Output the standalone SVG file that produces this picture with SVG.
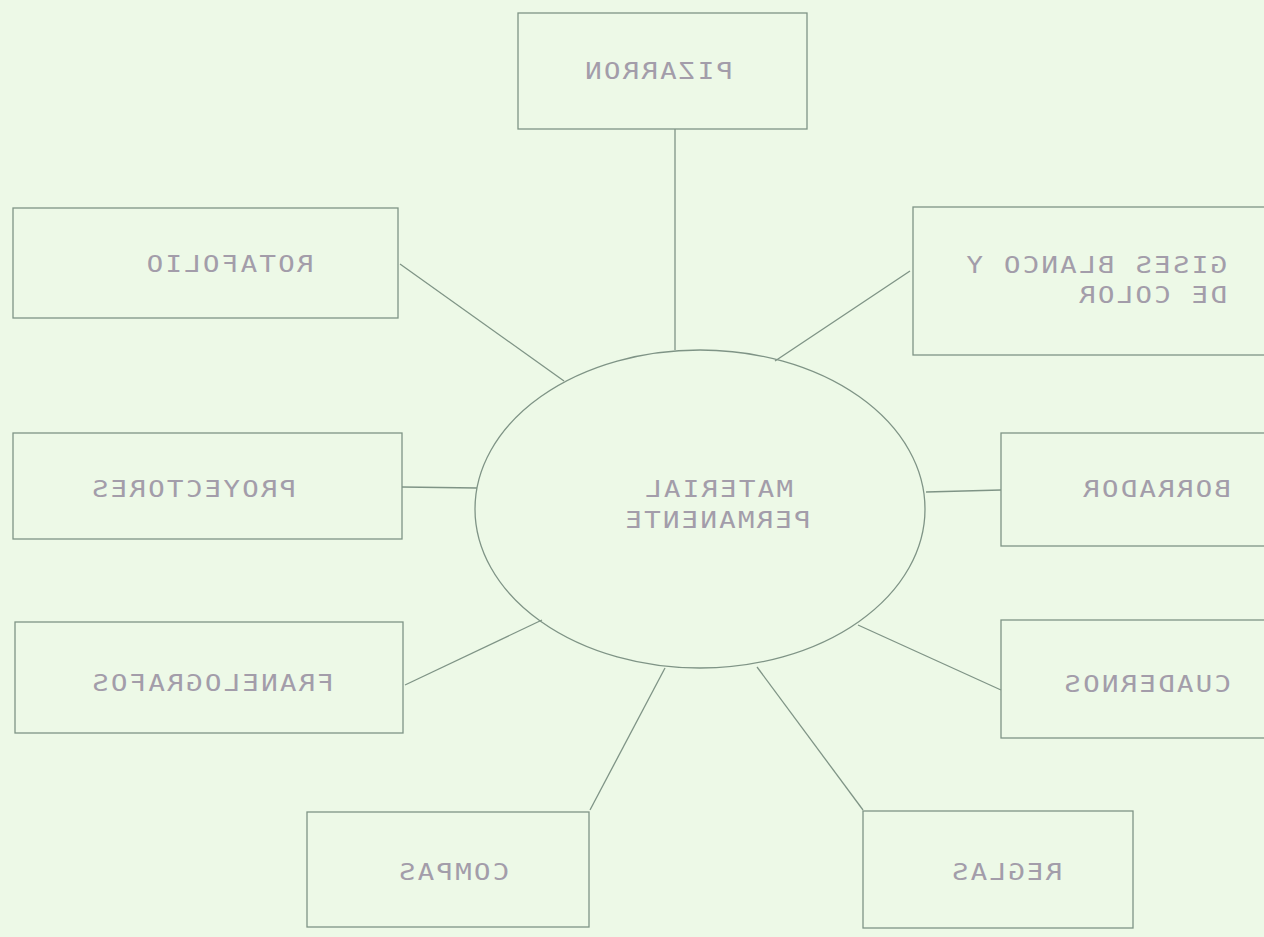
<svg xmlns="http://www.w3.org/2000/svg" width="1264" height="937" viewBox="0 0 1264 937">
<style>
.bg{fill:#edf9e7}
.box{fill:none;stroke:#7f9486;stroke-width:1.3}
.ell{fill:none;stroke:#7f9486;stroke-width:1.3}
.con line{stroke:#7f9486;stroke-width:1.3}
.lbl{font-family:"DejaVu Sans Mono","Liberation Mono",monospace;font-size:23px;letter-spacing:1.8px;fill:#a39daa}
</style>
<rect class="bg" x="0" y="0" width="1264" height="937"/>
<g id="connectors" class="con">
<line x1="675" y1="129" x2="675" y2="350"/>
<line x1="400" y1="264" x2="564" y2="381"/>
<line x1="910" y1="271" x2="775" y2="361"/>
<line x1="402" y1="487" x2="477" y2="488"/>
<line x1="1001" y1="490" x2="926" y2="492"/>
<line x1="405" y1="685" x2="542" y2="620"/>
<line x1="1001" y1="690" x2="858" y2="625"/>
<line x1="590" y1="810" x2="665" y2="668"/>
<line x1="863" y1="810" x2="757" y2="667"/>
</g>
<g id="n-material">
<ellipse class="ell" cx="700" cy="509" rx="225" ry="159"/>
<text class="lbl" transform="translate(718,497) scale(-1.2,1)" text-anchor="middle">MATERIAL</text>
<text class="lbl" transform="translate(717,528) scale(-1.2,1)" text-anchor="middle">PERMANENTE</text>
</g>
<g id="n-pizarron">
<rect class="box" x="518" y="13" width="289" height="116"/>
<text class="lbl" transform="translate(658,79) scale(-1.2,1)" text-anchor="middle">PIZARRON</text>
</g>
<g id="n-rotafolio">
<rect class="box" x="13" y="208" width="385" height="110"/>
<text class="lbl" transform="translate(229,272) scale(-1.2,1)" text-anchor="middle">ROTAFOLIO</text>
</g>
<g id="n-gises">
<rect class="box" x="913" y="207" width="380" height="148"/>
<text class="lbl" transform="translate(1227,273) scale(-1.2,1)">GISES BLANCO Y</text>
<text class="lbl" transform="translate(1227,303) scale(-1.2,1)">DE COLOR</text>
</g>
<g id="n-proyectores">
<rect class="box" x="13" y="433" width="389" height="106"/>
<text class="lbl" transform="translate(193,497) scale(-1.2,1)" text-anchor="middle">PROYECTORES</text>
</g>
<g id="n-borrador">
<rect class="box" x="1001" y="433" width="290" height="113"/>
<text class="lbl" transform="translate(1231,497) scale(-1.2,1)">BORRADOR</text>
</g>
<g id="n-franelografos">
<rect class="box" x="15" y="622" width="388" height="111"/>
<text class="lbl" transform="translate(212,691) scale(-1.2,1)" text-anchor="middle">FRANELOGRAFOS</text>
</g>
<g id="n-cuadernos">
<rect class="box" x="1001" y="620" width="290" height="118"/>
<text class="lbl" transform="translate(1231,692) scale(-1.2,1)">CUADERNOS</text>
</g>
<g id="n-compas">
<rect class="box" x="307" y="812" width="282" height="115"/>
<text class="lbl" transform="translate(453,880) scale(-1.2,1)" text-anchor="middle">COMPAS</text>
</g>
<g id="n-reglas">
<rect class="box" x="863" y="811" width="270" height="117"/>
<text class="lbl" transform="translate(1006,880) scale(-1.2,1)" text-anchor="middle">REGLAS</text>
</g>
</svg>
